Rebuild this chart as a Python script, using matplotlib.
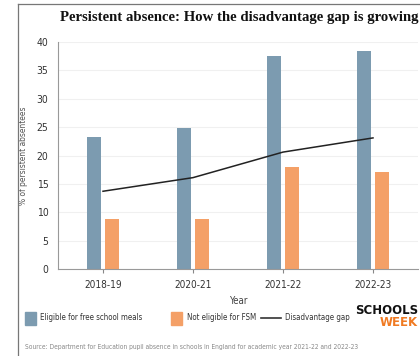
import numpy as np
import matplotlib.pyplot as plt
from matplotlib.lines import Line2D
from matplotlib.patches import Rectangle
from matplotlib import font_manager

years = ['2018-19', '2020-21', '2021-22', '2022-23']
fsm = [23.3, 24.8, 37.6, 38.4]
non_fsm = [8.8, 8.8, 18.0, 17.1]
gap = [13.7, 16.1, 20.6, 23.1]

blue = '#7c9bb0'
orange = '#f4a067'

narrow = font_manager.FontProperties(family='DejaVu Sans', stretch='condensed')


def nf(size):
    p = narrow.copy()
    p.set_size(size)
    return p


fig = plt.figure(figsize=(4.2, 3.56), dpi=100)
ax = fig.add_axes([58 / 420, 1 - 269 / 356, 360 / 420, 227 / 356])

x = np.arange(len(years))
w = 0.155
ax.bar(x - 0.1, fsm, w, color=blue, zorder=2)
ax.bar(x + 0.1, non_fsm, w, color=orange, zorder=2)
ax.plot(x, gap, color='#222222', lw=1.1, zorder=3)

ax.set_xlim(-0.5, 3.5)
ax.set_ylim(0, 40)
ax.set_yticks(range(0, 41, 5))
ax.set_xticks(x)
ax.set_xticklabels(years, fontproperties=nf(7.2), color='#333333')
for lab in ax.get_yticklabels():
    lab.set_fontproperties(nf(7.5))
    lab.set_color('#333333')
ax.tick_params(axis='y', length=0, pad=7)
ax.tick_params(axis='x', length=3, color='#888888', pad=5)
ax.yaxis.grid(True, color='#f0f0f0', lw=0.8, zorder=0)
for s in ['top', 'right']:
    ax.spines[s].set_visible(False)
ax.spines['left'].set_color('#999999')
ax.spines['bottom'].set_color('#999999')
ax.set_ylabel('% of persistent absentees', fontproperties=nf(6), color='#555555', labelpad=6)
ax.set_xlabel('Year', fontproperties=nf(7), color='#444444', labelpad=4)

fig.text(60 / 420, 1 - 18 / 356, 'Persistent absence: How the disadvantage gap is growing',
         family='Liberation Serif', fontweight='bold', fontsize=10.6, va='center', color='#111111')

# legend row
ly = 1 - 318 / 356
fig.patches.append(Rectangle((25 / 420, 1 - 325 / 356), 11 / 420, 13 / 356,
                             transform=fig.transFigure, color=blue))
fig.text(40 / 420, ly, 'Eligible for free school meals', fontproperties=nf(5.7),
         va='center', color='#333333')
fig.patches.append(Rectangle((171 / 420, 1 - 325 / 356), 11 / 420, 13 / 356,
                             transform=fig.transFigure, color=orange))
fig.text(187 / 420, ly, 'Not eligible for FSM', fontproperties=nf(5.7),
         va='center', color='#333333')
fig.lines.append(Line2D([261 / 420, 281 / 420], [ly, ly], transform=fig.transFigure,
                        color='#333333', lw=1.2))
fig.text(285 / 420, ly, 'Disadvantage gap', fontproperties=nf(5.7),
         va='center', color='#333333')

# logo
fig.text(418 / 420, 1 - 311 / 356, 'SCHOOLS', family='DejaVu Sans', fontweight='bold',
         fontsize=8.5, ha='right', va='center', color='#111111')
fig.text(418 / 420, 1 - 323 / 356, 'WEEK', family='DejaVu Sans', fontweight='bold',
         fontsize=8.5, ha='right', va='center', color='#f07a22')

fig.text(25 / 420, 1 - 347 / 356,
         'Source: Department for Education pupil absence in schools in England for academic year 2021-22 and 2022-23',
         fontproperties=nf(4.8), va='center', color='#888888')

# frame lines
fig.lines.append(Line2D([18 / 420, 18 / 420], [0, 1 - 4 / 356], transform=fig.transFigure,
                        color='#777777', lw=0.9))
fig.lines.append(Line2D([18 / 420, 1], [1 - 4 / 356, 1 - 4 / 356], transform=fig.transFigure,
                        color='#777777', lw=0.9))

fig.savefig('out.png', dpi=100)
